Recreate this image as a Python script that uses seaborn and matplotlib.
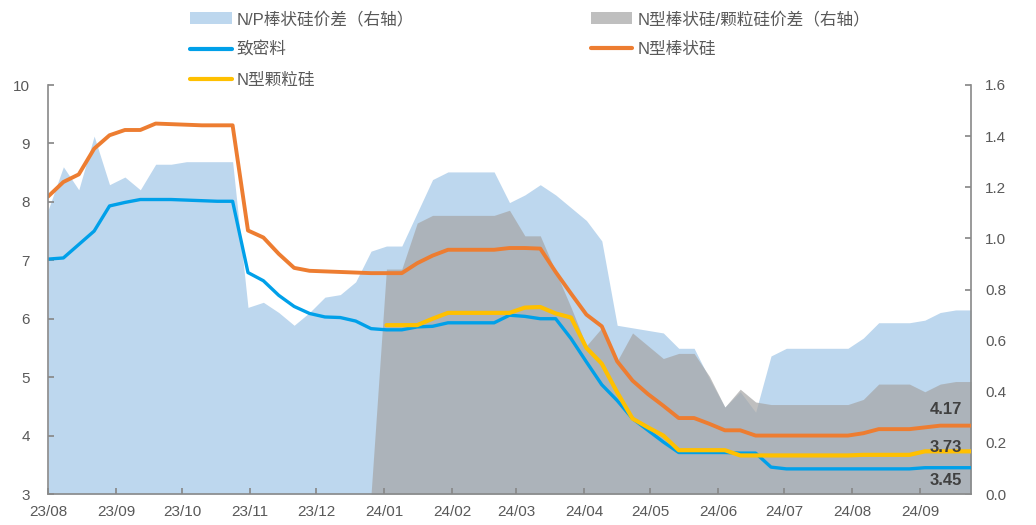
import matplotlib
matplotlib.use('Agg')
import matplotlib.pyplot as plt
import matplotlib.dates as mdates
from matplotlib.patches import Patch
from matplotlib.lines import Line2D
import numpy as np
import pandas as pd
import seaborn as sns

# weekly prices, 23/08 - 24/09
dates = pd.date_range('2023-08-01', periods=61, freq='7D')

dense = [7.02, 7.04, 7.27, 7.50, 7.93, 7.99, 8.04, 8.04, 8.04, 8.03, 8.02, 8.01, 8.01,
         6.79, 6.65, 6.40, 6.21, 6.09, 6.03, 6.02, 5.96, 5.83, 5.81, 5.81,
         5.86, 5.87, 5.93, 5.93, 5.93, 5.93, 6.06, 6.04, 6.00, 6.00,
         5.66, 5.26, 4.87, 4.60, 4.29, 4.09, 3.89, 3.71, 3.71, 3.71,
         3.71, 3.70, 3.70, 3.46, 3.43, 3.43, 3.43, 3.43, 3.43, 3.43,
         3.43, 3.43, 3.43, 3.45, 3.45, 3.45, 3.45]

n_rod = [8.09, 8.34, 8.47, 8.91, 9.14, 9.23, 9.23, 9.34, 9.33, 9.32, 9.31, 9.31, 9.31,
         7.51, 7.39, 7.11, 6.87, 6.82, 6.81, 6.80, 6.79, 6.78, 6.78, 6.78,
         6.95, 7.08, 7.18, 7.18, 7.18, 7.18, 7.21, 7.21, 7.20,
         6.80, 6.43, 6.07, 5.87, 5.27, 4.94, 4.71, 4.51, 4.30, 4.30,
         4.20, 4.09, 4.09, 4.00, 4.00, 4.00, 4.00, 4.00, 4.00, 4.00,
         4.04, 4.11, 4.11, 4.11, 4.14, 4.17, 4.17, 4.17]

n_granular = [np.nan] * 22 + [
         5.89, 5.89, 5.89, 6.00, 6.10, 6.10, 6.10, 6.10, 6.10, 6.19, 6.20,
         6.09, 6.02, 5.50, 5.23, 4.74, 4.29, 4.14, 4.00, 3.75, 3.75,
         3.75, 3.75, 3.66, 3.66, 3.66, 3.66, 3.66, 3.66, 3.66, 3.66,
         3.67, 3.67, 3.67, 3.67, 3.73, 3.73, 3.73, 3.73]

# spreads, right axis
np_spread = [1.11, 1.28, 1.19, 1.40, 1.21, 1.24, 1.19, 1.29, 1.29, 1.30, 1.30, 1.30, 1.30,
             0.73, 0.75, 0.71, 0.66, 0.71, 0.77, 0.78, 0.83, 0.95, 0.97, 0.97,
             1.10, 1.23, 1.26, 1.26, 1.26, 1.26, 1.14, 1.17, 1.21, 1.17,
             1.12, 1.07, 0.99, 0.66, 0.65, 0.64, 0.63, 0.57, 0.57, 0.45,
             0.34, 0.40, 0.32, 0.54, 0.57, 0.57, 0.57, 0.57, 0.57, 0.61,
             0.67, 0.67, 0.67, 0.68, 0.71, 0.72, 0.72]

rod_gran_spread = [0.0] * 22 + [
             0.88, 0.88, 1.06, 1.09, 1.09, 1.09, 1.09, 1.09, 1.11, 1.01, 1.01,
             0.87, 0.73, 0.58, 0.65, 0.52, 0.63, 0.58, 0.53, 0.55, 0.55,
             0.46, 0.34, 0.41, 0.36, 0.35, 0.35, 0.35, 0.35, 0.35, 0.35,
             0.37, 0.43, 0.43, 0.43, 0.40, 0.43, 0.44, 0.44]

labels = ['N/P棒状硅价差（右轴）', '致密料', 'N型颗粒硅',
          'N型棒状硅/颗粒硅价差（右轴）', 'N型棒状硅']

c_dense = '#00A0E9'
c_rod = '#ED7D31'
c_gran = '#FFC000'
c_area = '#BDD7EE'
c_gray = '#A5A5A5'
txt = '#595959'
axis_c = '#898989'

sns.set_theme(style='white')
plt.rcParams['font.family'] = ['Liberation Sans', 'Noto Sans CJK SC']
plt.rcParams['axes.unicode_minus'] = False

fig = plt.figure(figsize=(10.36, 5.25), dpi=100)
ax = fig.add_axes([48 / 1036, 1 - 494 / 525, (971 - 48) / 1036, (494 - 85) / 525])
ax2 = ax.twinx()

# areas on right axis, drawn under the lines
ax2.fill_between(dates, 0, np_spread, color=c_area, lw=0)
ax2.fill_between(dates, 0, rod_gran_spread, color=c_gray, alpha=0.7, lw=0)
ax.set_zorder(ax2.get_zorder() + 1)
ax.patch.set_visible(False)

df = pd.DataFrame({'date': dates, 'dense': dense, 'rod': n_rod, 'gran': n_granular})
sns.lineplot(data=df, x='date', y='dense', ax=ax, color=c_dense, lw=2.4)
sns.lineplot(data=df, x='date', y='rod', ax=ax, color=c_rod, lw=2.8)
sns.lineplot(data=df.dropna(), x='date', y='gran', ax=ax, color=c_gran, lw=3.0)

ax.set_xlim(dates[0], dates[-1])
ax.set_ylim(3, 10)
ax.set_yticks(range(3, 11))
ax2.set_ylim(0, 1.6)
ax2.set_yticks(np.arange(0, 1.61, 0.2))
ax2.yaxis.set_major_formatter(matplotlib.ticker.FormatStrFormatter('%.1f'))
ax.xaxis.set_major_locator(mdates.MonthLocator())
ax.xaxis.set_major_formatter(mdates.DateFormatter('%y/%m'))
ax.set_xlabel('')
ax.set_ylabel('')

for a in (ax, ax2):
    for s in a.spines.values():
        s.set_visible(False)
ax.spines['left'].set_visible(True)
ax.spines['bottom'].set_visible(True)
ax2.spines['right'].set_visible(True)
for s in (ax.spines['left'], ax.spines['bottom'], ax2.spines['right']):
    s.set_color(axis_c)
    s.set_linewidth(1.2)

ax.tick_params(axis='y', direction='in', length=4, color=axis_c, labelcolor=txt,
               labelsize=11, pad=13, left=True)
ax.tick_params(axis='x', direction='in', length=4, color=axis_c, labelcolor=txt,
               labelsize=11, pad=8, bottom=True)
ax2.tick_params(axis='y', direction='in', length=4, color=axis_c, labelcolor=txt,
                labelsize=11, pad=10, right=True)

# end-of-series labels
for vals, dy in ((n_rod, 16), (n_granular, 4), (dense, -13)):
    ax.annotate(f'{vals[-1]:.2f}', xy=(dates[-1], vals[-1]), xytext=(-25, dy),
                textcoords='offset pixels', ha='center', va='center',
                fontsize=12, fontweight='bold', color='#404040')

handles = [Patch(facecolor=c_area, edgecolor='none'),
           Line2D([], [], color=c_dense, lw=3),
           Line2D([], [], color=c_gran, lw=3),
           Patch(facecolor=c_gray, alpha=0.7, edgecolor='none'),
           Line2D([], [], color=c_rod, lw=3)]
fig.legend(handles, labels, ncol=2, loc='upper left',
           bbox_to_anchor=(190 / 1036, 1 - 11 / 525), frameon=False,
           fontsize=12, handlelength=2.5, handleheight=0.7, handletextpad=0.3,
           columnspacing=10.6, labelspacing=0.9, borderpad=0, borderaxespad=0,
           labelcolor=txt)

fig.savefig('out.png', dpi=100)
